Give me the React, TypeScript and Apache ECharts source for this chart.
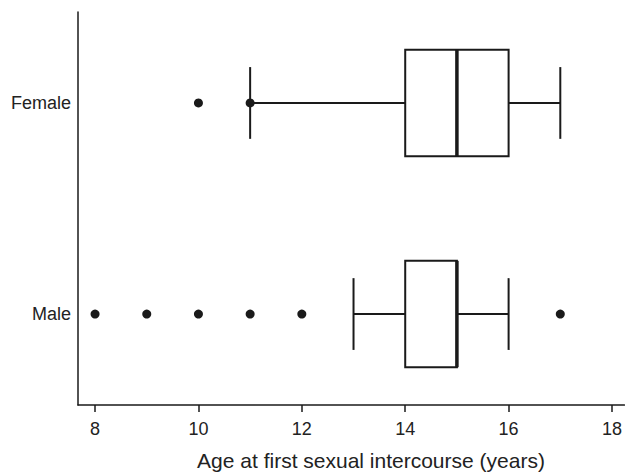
import React, { useEffect, useRef } from "react";
import * as echarts from "echarts";

const groups = ["Male", "Female"];
const groupPos = [1, 2];
// [whiskerLow, Q1, median, Q3, whiskerHigh]
const maleBox = [13, 14, 15, 15, 16];
const femaleBox = [11, 14, 15, 16, 17];
const maleOutliers = [8, 9, 10, 11, 12, 17];
const femaleOutliers = [10, 11];
const xTicks = [8, 10, 12, 14, 16, 18];
const xTitle = "Age at first sexual intercourse (years)";

const INK = "#1a1a1a";

export default function App() {
  const ref = useRef<HTMLDivElement>(null);
  useEffect(() => {
    if (!ref.current) return;
    const chart = echarts.init(ref.current, null, { renderer: "svg" });
    const boxData = [
      [groupPos[0], ...maleBox],
      [groupPos[1], ...femaleBox],
    ];
    const outlierData = [
      ...maleOutliers.map((v) => [v, groupPos[0]]),
      ...femaleOutliers.map((v) => [v, groupPos[1]]),
    ];
    chart.setOption({
      animation: false,
      backgroundColor: "#ffffff",
      grid: { left: 78, right: 0, top: 12, bottom: 68 },
      xAxis: {
        type: "value",
        min: 7.67,
        max: 18.24,
        axisLine: { show: true, lineStyle: { color: INK, width: 1.5 } },
        axisTick: {
          show: true,
          customValues: xTicks,
          length: 7,
          lineStyle: { color: INK, width: 1.5 },
        },
        axisLabel: {
          customValues: xTicks,
          margin: 15,
          fontSize: 18,
          fontFamily: "Liberation Sans, Arial, sans-serif",
          color: "#222",
        },
        splitLine: { show: false },
      },
      yAxis: {
        type: "value",
        min: 0.569,
        max: 2.431,
        axisLine: { show: true, lineStyle: { color: INK, width: 1.5 } },
        axisTick: { show: false },
        axisLabel: {
          customValues: groupPos,
          margin: 7,
          fontSize: 18,
          fontFamily: "Liberation Sans, Arial, sans-serif",
          color: "#222",
          formatter: (v: number) => groups[groupPos.indexOf(Math.round(v))] ?? "",
        },
        splitLine: { show: false },
      },
      graphic: [
        {
          type: "text",
          x: 371,
          y: 460,
          style: {
            text: xTitle,
            fontSize: 21,
            fontFamily: "Liberation Sans, Arial, sans-serif",
            fill: "#222",
            align: "center",
            verticalAlign: "middle",
          },
        },
      ],
      series: [
        {
          type: "custom",
          data: boxData,
          encode: { x: [1, 2, 3, 4, 5], y: 0 },
          renderItem: (params: any, api: any) => {
            const y = api.value(0);
            const lo = api.coord([api.value(1), y]);
            const q1 = api.coord([api.value(2), y]);
            const md = api.coord([api.value(3), y]);
            const q3 = api.coord([api.value(4), y]);
            const hi = api.coord([api.value(5), y]);
            const halfH = api.size([0, 0.252])[1];
            const capH = api.size([0, 0.17])[1];
            const cy = lo[1];
            const ls = { stroke: INK, lineWidth: 2, fill: null };
            return {
              type: "group",
              children: [
                { type: "line", shape: { x1: lo[0], y1: cy, x2: q1[0], y2: cy }, style: ls },
                { type: "line", shape: { x1: q3[0], y1: cy, x2: hi[0], y2: cy }, style: ls },
                { type: "line", shape: { x1: lo[0], y1: cy - capH, x2: lo[0], y2: cy + capH }, style: ls },
                { type: "line", shape: { x1: hi[0], y1: cy - capH, x2: hi[0], y2: cy + capH }, style: ls },
                {
                  type: "rect",
                  shape: { x: q1[0], y: cy - halfH, width: q3[0] - q1[0], height: 2 * halfH },
                  style: { stroke: INK, lineWidth: 2, fill: "#ffffff" },
                },
                {
                  type: "line",
                  shape: { x1: md[0], y1: cy - halfH, x2: md[0], y2: cy + halfH },
                  style: { stroke: INK, lineWidth: 3.5 },
                },
              ],
            };
          },
          z: 2,
        },
        {
          type: "scatter",
          data: outlierData,
          symbol: "circle",
          symbolSize: 9,
          itemStyle: { color: INK, opacity: 1 },
          z: 3,
        },
      ],
    });
    return () => chart.dispose();
  }, []);
  return (
    <div
      ref={ref}
      style={{ width: 625, height: 473, position: "absolute", left: 0, top: 0 }}
    />
  );
}
